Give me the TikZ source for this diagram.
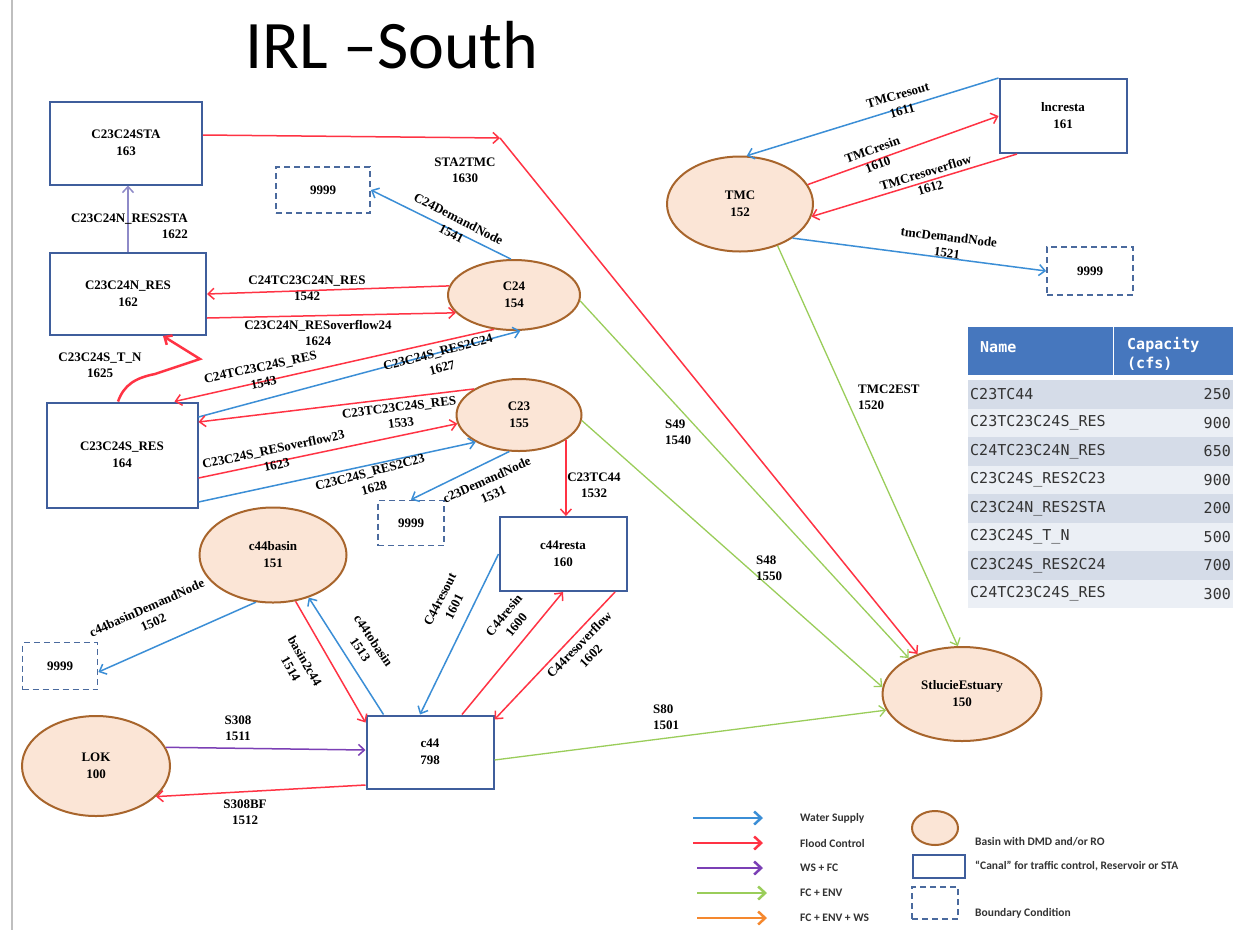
\documentclass[tikz,border=0pt]{standalone}
\usepackage{fontspec}
\setmainfont{Liberation Serif}
\newfontfamily\legendfont{Carlito}
\newfontfamily\tablefont{DejaVu Sans Mono}
\usetikzlibrary{arrows.meta,calc,shapes.geometric}
\definecolor{WSBlue}{HTML}{3B8ED6}
\definecolor{FCRed}{HTML}{FF3344}
\definecolor{WSFCPurple}{HTML}{7B3FB5}
\definecolor{EnvGreen}{HTML}{9ACD5A}
\definecolor{EnvOrange}{HTML}{F5882E}
\definecolor{StaPurple}{HTML}{8E8AC8}
\definecolor{CanalBlue}{HTML}{3F5E9C}
\definecolor{BoundBlue}{HTML}{4A6A9E}
\definecolor{BasinBrown}{HTML}{A8652C}
\definecolor{BasinFill}{HTML}{FBE5D6}
\definecolor{HeadBlue}{HTML}{4677BE}
\definecolor{RowDark}{HTML}{D5DCE8}
\definecolor{RowLight}{HTML}{EBEFF5}
\definecolor{TabText}{HTML}{333333}

\begin{document}
\begin{tikzpicture}[
    x=1pt,y=-1pt,
    canal/.style={draw=CanalBlue,line width=2pt,fill=white,inner sep=0pt,align=center,font=\fontsize{13}{17}\selectfont\bfseries},
    basin/.style={ellipse,draw=BasinBrown,line width=2pt,fill=BasinFill,inner sep=0pt,align=center,font=\fontsize{13}{17}\selectfont\bfseries},
    bound/.style={draw=BoundBlue,line width=1.8pt,dash pattern=on 6pt off 4pt,fill=white,inner sep=0pt,font=\fontsize{13}{17}\selectfont\bfseries},
    lbl/.style={font=\fontsize{13}{16}\selectfont\bfseries,align=center,inner sep=1pt},
    ws/.style={draw=WSBlue,line width=1.5pt,-{Straight Barb[length=6pt,width=11pt]}},
    fc/.style={draw=FCRed,line width=1.5pt,-{Straight Barb[length=6pt,width=11pt]}},
    wsfc/.style={draw=WSFCPurple,line width=1.5pt,-{Straight Barb[length=6pt,width=11pt]}},
    res2sta/.style={draw=StaPurple,line width=1.5pt,-{Straight Barb[length=6pt,width=11pt]}},
    env/.style={draw=EnvGreen,line width=1.3pt,-{Straight Barb[length=6pt,width=11pt]}},
    lgarrow/.style={line width=2.5pt,-{Straight Barb[length=7pt,width=13pt]}},
    lgtext/.style={anchor=west,inner sep=0pt,font=\legendfont\fontsize{11.5}{13}\selectfont\bfseries,text=black!80}
  ]
  \useasboundingbox (0,0) rectangle (1236,930);
  \fill[white] (0,0) rectangle (1236,930);
  \draw[black!25,line width=2pt] (12,0) -- (12,930);

  % title
  \node[anchor=base,inner sep=0pt,font=\legendfont\fontsize{68}{72}\selectfont] (title) at (392,68) {IRL –South};

  % canals, basins and boundaries
  \node[canal,minimum width=152pt,minimum height=83pt] (sta) at (126,143) {C23C24STA\\163};
  \node[bound,minimum width=94pt,minimum height=46pt] (bd1) at (323,190) {9999};
  \node[canal,minimum width=156pt,minimum height=82pt] (nres) at (128,294) {C23C24N\_RES\\162};
  \node[basin,minimum width=132pt,minimum height=70pt] (c24) at (514,295) {C24\\154};
  \node[canal,minimum width=151pt,minimum height=105pt] (sres) at (122,455) {C23C24S\_RES\\164};
  \node[basin,minimum width=125pt,minimum height=72pt] (c23) at (519,415) {C23\\155};
  \node[bound,minimum width=66pt,minimum height=45pt] (bd2) at (411,523) {9999};
  \node[basin,minimum width=147pt,minimum height=95pt] (basin) at (273,555) {c44basin\\151};
  \node[bound,minimum width=75pt,minimum height=47pt] (bd4) at (60,666) {9999};
  \node[canal,minimum width=127pt,minimum height=74pt] (resta) at (563,554) {c44resta\\160};
  \node[basin,minimum width=148pt,minimum height=100pt] (lok) at (96,766) {LOK\\100};
  \node[canal,minimum width=127pt,minimum height=73pt] (c44) at (430,752) {c44\\798};
  \node[basin,minimum width=146pt,minimum height=95pt] (tmc) at (740,204) {TMC\\152};
  \node[canal,minimum width=127pt,minimum height=74pt] (lnc) at (1063,116) {lncresta\\161};
  \node[bound,minimum width=86pt,minimum height=48pt] (bd3) at (1090,271) {9999};
  \node[basin,minimum width=159pt,minimum height=94pt] (est) at (962,694) {StlucieEstuary\\150};
  \coordinate (stabend) at (500,138);

  % connectors
  \draw[fc] ([yshift=8pt]sta.east) -- (stabend);
  \draw[fc] (stabend) -- (est.138);
  \draw[ws] (c24.95) -- (bd1.east);
  \draw[res2sta] (nres.north) -- (nres.north |- sta.south);
  \draw[fc] (c24.172) -- (nres.east);
  \draw[fc] ([yshift=-24pt]nres.east) -- (c24.197);
  \draw[fc,line width=2.5pt] ([xshift=-4pt]sres.north) .. controls (124,385) and (135,378) .. (155,374) -- (200,359) -- ([xshift=35pt]nres.south);
  \draw[fc] (c24.240) -- ([xshift=-24pt]sres.north east);
  \draw[ws] ([yshift=38pt]sres.east) -- (c24.280);
  \draw[fc] (c23.150) -- ([yshift=33pt]sres.east);
  \draw[fc] ([yshift=-23pt]sres.east) -- (c23.188);
  \draw[ws] ([yshift=-47pt]sres.east) -- (c23.212);
  \draw[ws] (c23.255) -- (bd2.north);
  \draw[fc] (c23.332) -- (c23.332 |- resta.north);
  \draw[env] (c24.355) -- (est.146);
  \draw[env] (c23.355) -- (est.175);
  \draw[env] (tmc.312) -- (est.95);
  \draw[env] ([yshift=-8pt]c44.east) -- (est.192);
  \draw[ws] (lnc.north west) -- (tmc.82);
  \draw[fc] (tmc.16) -- (lnc.west);
  \draw[fc] ([xshift=-46pt]lnc.south) -- (tmc.350);
  \draw[ws] (tmc.327) -- (bd3.west);
  \draw[ws] (basin.250) -- ([yshift=-6pt]bd4.east);
  \draw[fc] (basin.296) -- ([yshift=-8pt]c44.north west);
  \draw[ws] ([xshift=18pt]c44.north west) -- (basin.310);
  \draw[ws] (resta.west) -- ([xshift=-10pt]c44.north);
  \draw[fc] ([xshift=32pt]c44.north) -- (resta.south);
  \draw[fc] ([xshift=52pt]resta.south) -- ([yshift=-5pt]c44.north east);
  \draw[wsfc] (lok.15) -- ([yshift=2pt]c44.west);
  \draw[fc] ([yshift=-33pt]c44.west) -- (lok.333);

  % connector labels
  \node[lbl] (l1630) at (465,170) {STA2TMC\\1630};
  \node[lbl,rotate=-27] (l1541) at (455,226) {C24DemandNode\\1541};
  \node[lbl,align=right,anchor=east] (l1622) at (189,226) {C23C24N\_RES2STA\\1622};
  \node[lbl] (l1542) at (307,288) {C24TC23C24N\_RES\\1542};
  \node[lbl] (l1624) at (318,333) {C23C24N\_RESoverflow24\\1624};
  \node[lbl] (l1625) at (100,365) {C23C24S\_T\_N\\1625};
  \node[lbl,rotate=12] (l1543) at (262,375) {C24TC23C24S\_RES\\1543};
  \node[lbl,rotate=15] (l1627) at (440,360) {C23C24S\_RES2C24\\1627};
  \node[lbl,rotate=7] (l1533) at (400,415) {C23TC23C24S\_RES\\1533};
  \node[lbl,rotate=12] (l1623) at (275,457) {C23C24S\_RESoverflow23\\1623};
  \node[lbl,rotate=15] (l1628) at (372,480) {C23C24S\_RES2C23\\1628};
  \node[lbl,rotate=24] (l1531) at (490,487) {c23DemandNode\\1531};
  \node[lbl] (l1532) at (594,485) {C23TC44\\1532};
  \node[lbl,align=left,anchor=west] (l1540) at (664,432) {S49\\1540};
  \node[lbl,align=left,anchor=west] (l1550) at (755,568) {S48\\1550};
  \node[lbl,align=left,anchor=west] (l1520) at (857,397) {TMC2EST\\1520};
  \node[lbl,align=left,anchor=west] (l1501) at (652,717) {S80\\1501};
  \node[lbl,rotate=16] (l1611) at (900,103) {TMCresout\\1611};
  \node[lbl,rotate=20] (l1610) at (875,157) {TMCresin\\1610};
  \node[lbl,rotate=17] (l1612) at (928,180) {TMCresoverflow\\1612};
  \node[lbl,rotate=-7] (l1521) at (948,245) {tmcDemandNode\\1521};
  \node[lbl,rotate=24] (l1502) at (150,615) {c44basinDemandNode\\1502};
  \node[lbl,rotate=-60] (l1514) at (298,665) {basin2c44\\1514};
  \node[lbl,rotate=-56] (l1513) at (367,645) {c44tobasin\\1513};
  \node[lbl,rotate=63] (l1601) at (447,603) {C44resout\\1601};
  \node[lbl,rotate=51] (l1600) at (510,620) {C44resin\\1600};
  \node[lbl,rotate=46] (l1602) at (585,650) {C44resoverflow\\1602};
  \node[lbl] (l1511) at (238,728) {S308\\1511};
  \node[lbl] (l1512) at (245,812) {S308BF\\1512};

  % capacity table
  \fill[HeadBlue] (968,327) rectangle (1233,375);
  \draw[white,line width=1pt] (1113,327) -- (1113,375);
  \node[anchor=west,inner sep=0pt,text=white,font=\tablefont\fontsize{15}{18}\selectfont\bfseries] (thname) at (980,347) {Name};
  \node[anchor=west,inner sep=0pt,text=white,align=left,font=\tablefont\fontsize{15}{19}\selectfont\bfseries] (thcap) at (1127,354) {Capacity\\(cfs)};
  \foreach \nm/\cp [count=\i] in {C23TC44/250,C23TC23C24S\_RES/900,C24TC23C24N\_RES/650,C23C24S\_RES2C23/900,C23C24N\_RES2STA/200,C23C24S\_T\_N/500,C23C24S\_RES2C24/700,C24TC23C24S\_RES/300}{
    \ifodd\i\def\rowcol{RowDark}\else\def\rowcol{RowLight}\fi
    \fill[\rowcol] (968,{380+(\i-1)*28.5}) rectangle (1233,{380+\i*28.5});
    \node[anchor=west,inner sep=0pt,text=TabText,font=\tablefont\fontsize{15}{18}\selectfont] (tn\i) at (970,{380+(\i-0.5)*28.5}) {\nm};
    \node[anchor=east,inner sep=0pt,text=TabText,font=\tablefont\fontsize{15}{18}\selectfont] (tc\i) at (1231,{380+(\i-0.5)*28.5}) {\cp};
  }

  % legend
  \draw[lgarrow,draw=WSBlue] (693,818) -- (763,818);
  \draw[lgarrow,draw=FCRed] (693,843) -- (763,843);
  \draw[lgarrow,draw=WSFCPurple] (697,868) -- (763,868);
  \draw[lgarrow,draw=EnvGreen] (697,893) -- (767,893);
  \draw[lgarrow,draw=EnvOrange] (697,918) -- (767,918);
  \node[lgtext] (lgws) at (800,818) {Water Supply};
  \node[lgtext] (lgfc) at (800,843) {Flood Control};
  \node[lgtext] (lgwsfc) at (800,868) {WS + FC};
  \node[lgtext] (lgenv) at (800,893) {FC + ENV};
  \node[lgtext] (lgall) at (800,918) {FC + ENV + WS};
  \node[basin,minimum width=46pt,minimum height=34pt] (lgbasin) at (935,828) {};
  \node[canal,minimum width=52pt,minimum height=23pt] (lgcanal) at (939,866) {};
  \node[bound,minimum width=46pt,minimum height=32pt] (lgbound) at (935,903) {};
  \node[lgtext] (lgbasintxt) at (975,842) {Basin with DMD and/or RO};
  \node[lgtext] (lgcanaltxt) at (975,866) {“Canal” for traffic control, Reservoir or STA};
  \node[lgtext] (lgboundtxt) at (975,913) {Boundary Condition};
\end{tikzpicture}
\end{document}
